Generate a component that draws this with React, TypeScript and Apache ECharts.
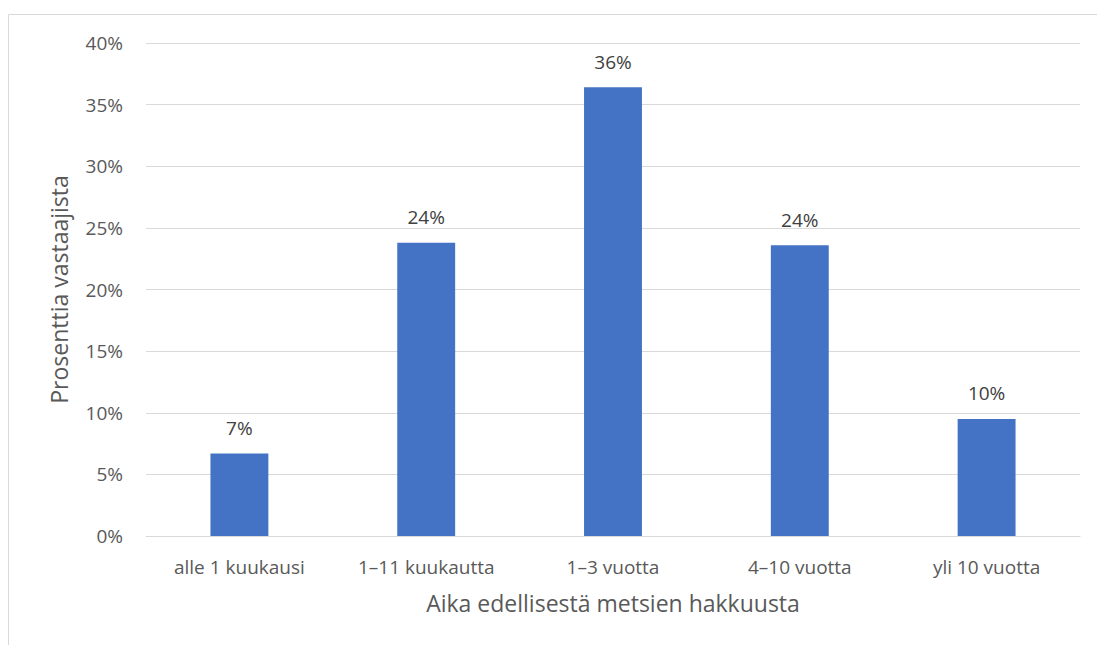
import React, { useEffect, useRef } from "react";
import * as echarts from "echarts";

const categories = ["alle 1 kuukausi", "1–11 kuukautta", "1–3 vuotta", "4–10 vuotta", "yli 10 vuotta"];
const values = [6.7, 23.8, 36.4, 23.6, 9.5];
const yTicks = { min: 0, max: 40, interval: 5 };
const xTitle = "Aika edellisestä metsien hakkuusta";
const yTitle = "Prosenttia vastaajista";

const FONT = "Open Sans";

export default function App() {
  const ref = useRef<HTMLDivElement>(null);
  useEffect(() => {
    const chart = echarts.init(ref.current!, null, { renderer: "svg" });
    chart.setOption({
      animation: false,
      textStyle: { fontFamily: FONT },
      graphic: [
        {
          type: "rect",
          shape: { x: 8.5, y: 14.5, width: 1100, height: 700 },
          style: { fill: "none", stroke: "#d9d9d9", lineWidth: 1 },
          silent: true,
        },
      ],
      grid: { left: 146, right: 17, top: 43, bottom: 109 },
      xAxis: {
        type: "category",
        data: categories,
        name: xTitle,
        nameLocation: "middle",
        nameGap: 55,
        nameTextStyle: { fontSize: 23, color: "#595959", fontFamily: FONT },
        axisLine: { show: true, lineStyle: { color: "#d9d9d9", width: 1 } },
        axisTick: { show: false },
        axisLabel: { fontSize: 19, color: "#595959", margin: 21, fontFamily: FONT },
      },
      yAxis: {
        type: "value",
        min: yTicks.min,
        max: yTicks.max,
        interval: yTicks.interval,
        name: yTitle,
        nameLocation: "middle",
        nameGap: 76,
        nameTextStyle: { fontSize: 23, color: "#595959", fontFamily: FONT },
        axisLine: { show: false },
        axisTick: { show: false },
        splitLine: { lineStyle: { color: "#d9d9d9", width: 1 } },
        axisLabel: {
          fontSize: 19,
          color: "#595959",
          margin: 23,
          fontFamily: FONT,
          formatter: (v: number) => `${v}%`,
        },
      },
      series: [
        {
          type: "bar",
          data: values,
          barWidth: "31%",
          itemStyle: { color: "#4472c4" },
          label: {
            show: true,
            position: "top",
            distance: 16,
            fontSize: 19,
            color: "#404040",
            fontFamily: FONT,
            formatter: (p: any) => `${Math.round(p.value)}%`,
          },
        },
      ],
    });
    return () => chart.dispose();
  }, []);
  return (
    <div
      ref={ref}
      style={{ position: "fixed", left: 0, top: 0, width: 1097, height: 645, background: "#fff" }}
    />
  );
}
